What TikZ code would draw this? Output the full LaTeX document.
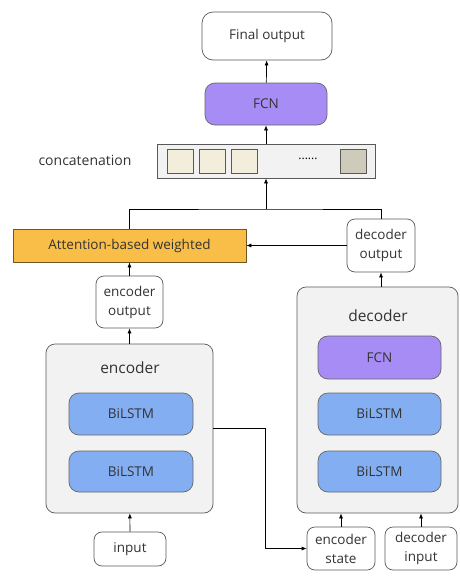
\documentclass[tikz,border=0pt]{standalone}
\usepackage{fontspec}
\setmainfont{Open Sans}
\usetikzlibrary{arrows.meta}
\definecolor{fcnpurple}{HTML}{A88CF6}
\definecolor{lstmblue}{HTML}{84AEF2}
\definecolor{attnorange}{HTML}{F9BE48}
\definecolor{panelgray}{HTML}{F2F2F2}
\definecolor{cellcream}{HTML}{F3EEDB}
\definecolor{celldark}{HTML}{CFCBBB}
\begin{document}
\begin{tikzpicture}[x=1pt,y=-1pt,
    box/.style={draw=black!65, line width=0.7pt, rounded corners=8pt, align=center,
                inner sep=0pt, font=\fontsize{13.5}{19}\selectfont, text=black!80},
    panel/.style={box, fill=panelgray, rounded corners=9pt},
    layer/.style={box, rounded corners=10pt, draw=black!60, minimum width=123pt},
    cell/.style={draw=black!65, line width=0.7pt, minimum width=26pt, minimum height=24pt, inner sep=0pt},
    conn/.style={-{Latex[length=5pt,width=4pt]}, line width=0.7pt}]
  \useasboundingbox (0,0) rectangle (460,581);
  % top part
  \node[box, fill=white, minimum width=130pt, minimum height=48pt, rounded corners=11pt] (final) at (267,36) {Final output};
  \node[layer, fill=fcnpurple, minimum width=122pt, minimum height=42pt] (fcntop) at (266,104) {FCN};
  \node[box, fill=panelgray, rounded corners=0pt, minimum width=218pt, minimum height=34pt] (concat) at (266,161) {};
  \node[cell, fill=cellcream] (cellA) at (180,161) {};
  \node[cell, fill=cellcream] (cellB) at (212,161) {};
  \node[cell, fill=cellcream] (cellC) at (244.5,161) {};
  \node[font=\fontsize{12}{14}\selectfont] (dots) at (308,159) {......};
  \node[cell, fill=celldark] (cellN) at (353.5,161) {};
  \node[font=\fontsize{14}{16}\selectfont, text=black!80] (concatlabel) at (85,160) {concatenation};
  % attention and outputs
  \node[box, fill=attnorange, draw=black!55!attnorange, rounded corners=0pt, minimum width=233pt, minimum height=33pt] (attn) at (129.5,245.5) {Attention-based weighted};
  \node[box, fill=white, minimum width=68pt, minimum height=53pt] (decout) at (381,245.5) {decoder\\output};
  \node[box, fill=white, minimum width=67pt, minimum height=52pt] (encout) at (129.5,302) {encoder\\output};
  % encoder
  \node[panel, minimum width=167pt, minimum height=169pt] (enc) at (129.5,428.5) {};
  \node[font=\fontsize{15.5}{18}\selectfont, text=black!80] (enclabel) at (130,368) {encoder};
  \node[layer, fill=lstmblue, minimum width=124pt, minimum height=42pt] (encA) at (131,414) {BiLSTM};
  \node[layer, fill=lstmblue, minimum width=124pt, minimum height=41pt] (encB) at (131,471.5) {BiLSTM};
  \node[box, fill=white, minimum width=72pt, minimum height=34pt] (input) at (130,549) {input};
  % decoder
  \node[panel, minimum width=161pt, minimum height=226pt] (dec) at (377.5,400) {};
  \node[font=\fontsize{15.5}{18}\selectfont, text=black!80] (declabel) at (378,316) {decoder};
  \node[layer, fill=fcnpurple, minimum height=43pt] (decfcn) at (379.5,357.5) {FCN};
  \node[layer, fill=lstmblue, minimum height=42pt] (decA) at (379.5,414) {BiLSTM};
  \node[layer, fill=lstmblue, minimum height=41pt] (decB) at (379.5,471.5) {BiLSTM};
  \node[box, fill=white, minimum width=68pt, minimum height=43pt] (encstate) at (341,548.5) {encoder\\state};
  \node[box, fill=white, minimum width=72pt, minimum height=43pt] (decin) at (421,548.5) {decoder\\input};
  % connectors
  \coordinate (join) at (266,209);
  \coordinate (turn) at (265,428.5);
  \draw[conn] (fcntop) -- (final);
  \draw[conn] (concat) -- (fcntop);
  \draw[conn] (join) -- (concat);
  \draw[line width=0.7pt] (attn.north) |- (join) -| (decout.north);
  \draw[conn] (decout) -- (attn);
  \draw[conn] (encout) -- (attn);
  \draw[conn] (enc) -- (encout);
  \draw[conn] (input) -- (enc);
  \draw[conn] (enc.east) -- (turn) |- (encstate.west);
  \draw[conn] (encstate.north) -- (encstate.north |- dec.south);
  \draw[conn] (decin.north) -- (decin.north |- dec.south);
  \draw[conn] (decout.south |- dec.north) -- (decout.south);
\end{tikzpicture}
\end{document}
